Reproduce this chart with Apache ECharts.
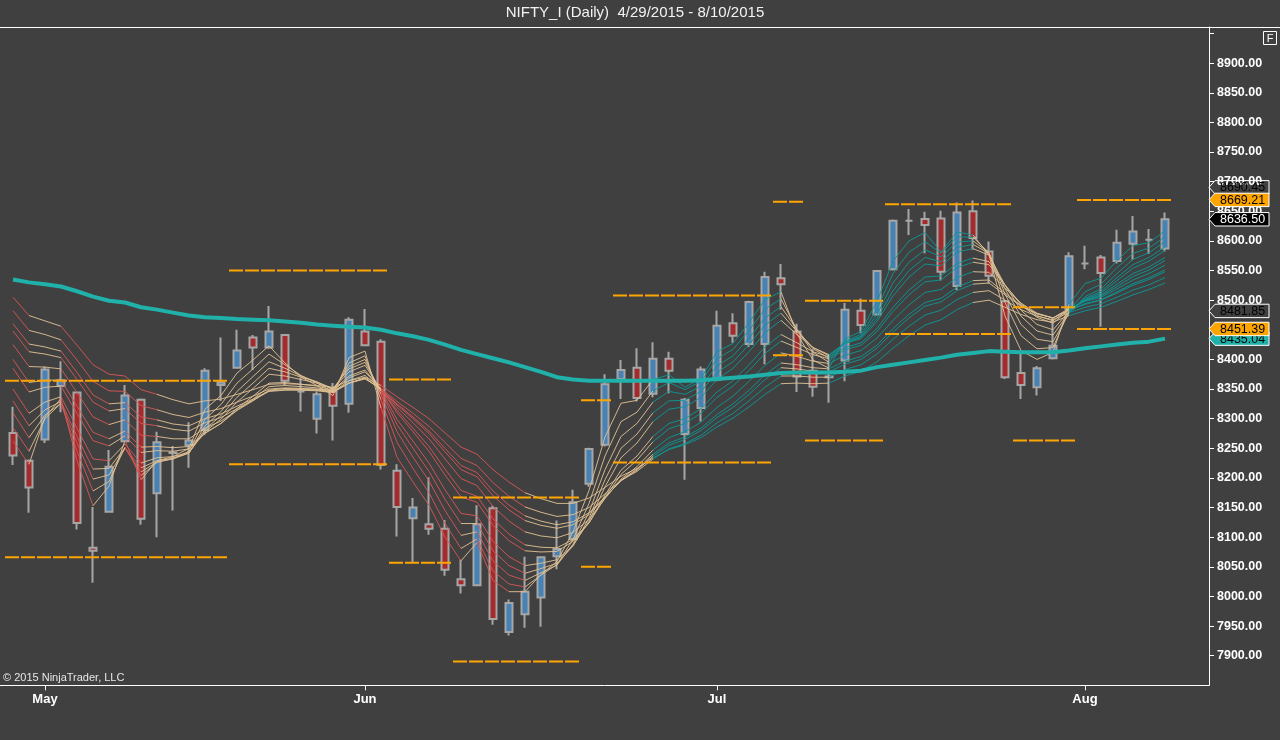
<!DOCTYPE html>
<html>
<head>
<meta charset="utf-8">
<script src="https://cdn.jsdelivr.net/npm/echarts@6/dist/echarts.min.js"></script>
<style>
html,body{margin:0;padding:0;background:#404040;}
#chart{width:1280px;height:740px;}
</style>
</head>
<body>
<div id="chart"></div>
<script>
// ---------- data ----------
const chartTitle = 'NIFTY_I (Daily)  4/29/2015 - 8/10/2015';
const dates = [
 '4/29/2015','4/30/2015',
 '5/4/2015','5/5/2015','5/6/2015','5/7/2015','5/8/2015',
 '5/11/2015','5/12/2015','5/13/2015','5/14/2015','5/15/2015',
 '5/18/2015','5/19/2015','5/20/2015','5/21/2015','5/22/2015',
 '5/25/2015','5/26/2015','5/27/2015','5/28/2015','5/29/2015',
 '6/1/2015','6/2/2015','6/3/2015','6/4/2015','6/5/2015',
 '6/8/2015','6/9/2015','6/10/2015','6/11/2015','6/12/2015',
 '6/15/2015','6/16/2015','6/17/2015','6/18/2015','6/19/2015',
 '6/22/2015','6/23/2015','6/24/2015','6/25/2015','6/26/2015',
 '6/29/2015','6/30/2015',
 '7/1/2015','7/2/2015','7/3/2015',
 '7/6/2015','7/7/2015','7/8/2015','7/9/2015','7/10/2015',
 '7/13/2015','7/14/2015','7/15/2015','7/16/2015','7/17/2015',
 '7/20/2015','7/21/2015','7/22/2015','7/23/2015','7/24/2015',
 '7/27/2015','7/28/2015','7/29/2015','7/30/2015','7/31/2015',
 '8/3/2015','8/4/2015','8/5/2015','8/6/2015','8/7/2015',
 '8/10/2015'
];
const monthNames = ['Jan','Feb','Mar','Apr','May','Jun','Jul','Aug','Sep','Oct','Nov','Dec'];

const opens  = [8276,8229,8265,8355,8344,8082,8143,8262,8332,8174,8242,8255,8281,8357,8386,8437,8420,8441,8346,8300,8346,8325,8447,8430,8212,8132,8122,8114,8029,8019,8149,7940,7970,7998,8068,8097,8190,8256,8367,8386,8342,8401,8274,8318,8366,8461,8426,8426,8537,8447,8381,8371,8398,8482,8476,8552,8634,8637,8638,8524,8650,8582,8498,8377,8353,8402,8485,8562,8572,8566,8595,8602,8587];
const highs  = [8320,8231,8388,8397,8346,8151,8247,8357,8334,8278,8254,8294,8385,8437,8450,8441,8490,8443,8369,8346,8360,8471,8485,8434,8223,8166,8201,8129,8062,8154,8153,7995,8067,8068,8128,8180,8251,8375,8399,8419,8429,8413,8335,8388,8482,8478,8499,8548,8561,8460,8417,8408,8495,8503,8551,8636,8654,8649,8651,8665,8668,8599,8500,8411,8389,8470,8581,8592,8576,8619,8642,8620,8648];
const lows   = [8222,8141,8259,8311,8113,8023,8141,8261,8121,8100,8145,8217,8273,8330,8385,8382,8418,8357,8312,8275,8263,8310,8423,8214,8101,8057,8104,8035,8005,8017,7952,7934,7947,7949,8046,8095,8185,8253,8333,8329,8336,8343,8197,8295,8363,8428,8421,8392,8484,8345,8337,8327,8363,8444,8474,8550,8610,8579,8533,8517,8585,8528,8367,8333,8339,8400,8483,8552,8455,8562,8568,8578,8582];
const closes = [8238,8184,8383,8365,8124,8077,8219,8339,8131,8260,8243,8263,8381,8361,8415,8420,8447,8364,8346,8341,8322,8467,8424,8222,8151,8150,8114,8045,8019,8122,7962,7989,8008,8066,8080,8159,8249,8358,8382,8335,8401,8381,8332,8383,8457,8440,8497,8539,8527,8371,8354,8370,8484,8458,8549,8634,8634,8627,8548,8648,8605,8541,8370,8357,8385,8423,8574,8562,8546,8597,8616,8602,8636.5];

// thick teal average
const trendLine = [8535,8530,8527,8523,8515,8506,8499,8496,8488,8484,8479,8474,8471,8470,8468,8467,8466,8464,8462,8459,8457,8455,8454,8450,8444,8439,8433,8425,8416,8409,8402,8395,8387,8379,8370,8366,8364,8364,8364,8364,8364,8364,8364,8365,8367,8369,8371,8374,8377,8378,8378,8378,8379,8381,8387,8391,8395,8399,8403,8408,8411,8414,8413,8412,8412,8412,8415,8419,8422,8425,8428,8430,8435.04];

// ribbon of averages, fastest first
const ribbonA = [8262,8223,8303,8334,8229,8153,8186,8263,8197,8229,8236,8250,8316,8339,8377,8399,8423,8394,8370,8356,8339,8403,8414,8318,8235,8193,8154,8100,8060,8091,8027,8008,8008,8037,8059,8109,8179,8269,8326,8331,8366,8374,8353,8368,8413,8427,8462,8501,8514,8443,8399,8385,8435,8447,8498,8566,8600,8614,8581,8615,8610,8576,8473,8415,8400,8412,8493,8528,8537,8567,8592,8597,8617];
const ribbonB = [8285,8245,8300,8326,8245,8178,8194,8252,8204,8226,8233,8245,8299,8324,8360,8384,8409,8391,8373,8360,8345,8394,8406,8332,8260,8216,8175,8123,8081,8097,8043,8021,8016,8036,8054,8096,8157,8237,8295,8311,8347,8361,8349,8363,8401,8417,8449,8485,8502,8450,8412,8395,8431,8442,8485,8545,8581,8599,8579,8607,8606,8580,8496,8440,8418,8420,8482,8514,8527,8555,8579,8588,8607];
const ribbonC = [8310,8268,8306,8326,8259,8198,8205,8250,8210,8227,8232,8242,8288,8312,8346,8371,8396,8385,8372,8362,8349,8388,8400,8341,8278,8235,8195,8145,8103,8109,8060,8036,8027,8040,8053,8088,8142,8214,8270,8292,8328,8346,8341,8355,8389,8406,8436,8470,8489,8450,8418,8402,8429,8439,8476,8529,8564,8585,8573,8598,8600,8580,8510,8459,8434,8430,8478,8506,8519,8545,8569,8580,8599];
const ribbonD = [8330,8288,8315,8329,8270,8215,8216,8251,8217,8229,8233,8242,8282,8305,8336,8360,8385,8379,8370,8362,8351,8384,8395,8346,8290,8250,8211,8164,8123,8123,8077,8052,8039,8047,8056,8085,8132,8197,8250,8274,8310,8330,8331,8346,8378,8396,8425,8458,8478,8447,8420,8406,8428,8437,8469,8516,8550,8572,8565,8589,8594,8579,8519,8473,8448,8441,8479,8503,8515,8538,8560,8572,8590];
const ribbonE = [8350,8309,8328,8337,8284,8232,8229,8257,8225,8234,8236,8243,8278,8299,8328,8351,8375,8372,8366,8360,8350,8379,8390,8348,8299,8262,8225,8180,8140,8136,8093,8067,8052,8056,8062,8086,8127,8185,8234,8259,8295,8316,8320,8336,8366,8385,8413,8445,8466,8442,8420,8408,8427,8435,8464,8507,8539,8561,8558,8581,8587,8576,8525,8483,8459,8450,8481,8501,8512,8533,8554,8566,8584];
const ribbonF = [8385,8345,8353,8355,8309,8263,8254,8271,8243,8246,8245,8249,8275,8292,8317,8338,8360,8361,8358,8355,8348,8372,8382,8350,8310,8278,8245,8205,8168,8159,8120,8094,8077,8075,8076,8093,8124,8171,8213,8237,8270,8292,8300,8317,8345,8364,8391,8421,8442,8428,8413,8404,8420,8428,8452,8488,8517,8539,8541,8562,8571,8565,8526,8492,8471,8461,8484,8500,8509,8527,8545,8556,8572];
const ribbonG = [8400,8361,8365,8365,8321,8277,8266,8279,8252,8253,8251,8253,8276,8292,8314,8333,8354,8356,8354,8352,8347,8369,8379,8350,8314,8284,8253,8215,8179,8169,8131,8105,8087,8083,8082,8096,8124,8167,8206,8230,8261,8283,8292,8309,8336,8355,8381,8410,8431,8420,8408,8401,8416,8424,8447,8481,8509,8531,8534,8555,8564,8560,8525,8494,8474,8465,8485,8499,8507,8523,8540,8551,8567];
const ribbonH = [8425,8388,8387,8384,8344,8303,8290,8298,8272,8270,8266,8266,8284,8296,8314,8330,8348,8351,8350,8349,8345,8364,8373,8350,8319,8293,8266,8232,8199,8187,8152,8127,8109,8102,8099,8108,8130,8165,8198,8219,8247,8268,8278,8294,8319,8338,8363,8390,8411,8405,8397,8393,8407,8415,8436,8466,8492,8513,8518,8538,8548,8547,8520,8495,8478,8470,8486,8498,8505,8519,8534,8545,8559];
const ribbonI = [8448,8413,8409,8403,8366,8328,8313,8317,8292,8288,8282,8279,8293,8302,8317,8331,8346,8348,8348,8347,8344,8360,8369,8349,8323,8300,8275,8244,8214,8202,8170,8146,8128,8120,8115,8121,8138,8167,8196,8215,8240,8259,8269,8284,8307,8325,8348,8374,8394,8391,8386,8384,8397,8405,8424,8452,8476,8496,8503,8522,8533,8534,8512,8491,8477,8470,8484,8494,8501,8514,8528,8538,8551];
const ribbonJ = [8460,8426,8421,8414,8378,8340,8325,8327,8303,8298,8291,8288,8300,8308,8321,8333,8347,8349,8349,8348,8345,8360,8368,8350,8325,8303,8279,8250,8221,8209,8178,8154,8136,8127,8121,8126,8141,8168,8195,8213,8237,8255,8265,8280,8302,8319,8341,8366,8386,8384,8380,8379,8392,8400,8419,8446,8470,8490,8497,8516,8527,8529,8509,8490,8477,8470,8483,8493,8500,8512,8525,8535,8548];
const ribbonK = [8482,8449,8442,8433,8399,8363,8347,8346,8322,8315,8307,8302,8311,8317,8328,8338,8350,8352,8351,8350,8347,8360,8367,8351,8329,8309,8287,8260,8233,8221,8192,8169,8151,8142,8135,8138,8150,8173,8196,8211,8232,8249,8258,8272,8293,8309,8330,8353,8372,8372,8370,8370,8383,8391,8409,8434,8456,8475,8483,8501,8513,8516,8500,8484,8473,8467,8479,8488,8494,8505,8517,8526,8538];
const ribbonL = [8505,8474,8465,8456,8424,8391,8375,8372,8349,8341,8332,8325,8330,8333,8341,8349,8358,8359,8358,8356,8353,8364,8370,8356,8337,8319,8300,8276,8252,8240,8214,8193,8175,8165,8157,8157,8166,8184,8203,8216,8234,8248,8256,8268,8286,8301,8320,8341,8359,8360,8359,8360,8372,8380,8396,8419,8440,8458,8467,8484,8496,8500,8488,8476,8467,8463,8474,8482,8488,8498,8509,8518,8529];

// ribbon state per bar-to-bar segment, run-length: R bearish, T neutral, G bullish
const ribbonStateRuns = [['R',1],['T',2],['R',6],['T',14],['R',9],['T',8],['G',8],['T',3],['G',9],['T',6],['G',6]];

// orange level segments (first bar, last bar, upper, lower)
const levelStart = [0, 14, 24, 28, 36, 38, 48, 50, 55, 63, 67];
const levelEnd   = [13, 23, 27, 35, 37, 47, 49, 54, 62, 66, 72];
const levelHigh  = [8364, 8550, 8366, 8167, 8331, 8508, 8666, 8499, 8662, 8488, 8669.21];
const levelLow   = [8066, 8223, 8057, 7890, 8050, 8226, 8407, 8263, 8443, 8263, 8451.39];

// price markers on the right axis (drawn in this order)
const markerValues = [8690.45, 8669.21, 8636.50, 8481.85, 8435.04, 8451.39];

// ---------- styling ----------
const BG = '#404040';
const FONT = '"Liberation Sans", Arial, sans-serif';
const UP = '#4682B4', DOWN = '#A52A2A', CANDLE_BORDER = '#A6A6A6';
const RIBBON_COLORS = { red: 'rgba(214,86,86,0.92)', tan: 'rgba(224,192,146,0.92)', teal: 'rgba(14,150,150,0.92)' };
const markerStyles = [
  { fill: 'rgba(0,0,0,0)', stroke: '#ffffff', text: '#000000' },
  { fill: '#FFA500', stroke: '#ffffff', text: '#000000' },
  { fill: '#000000', stroke: '#ffffff', text: '#ffffff' },
  { fill: 'rgba(0,0,0,0)', stroke: '#ffffff', text: '#000000' },
  { fill: '#20B2AA', stroke: '#ffffff', text: '#000000' },
  { fill: '#FFA500', stroke: '#ffffff', text: '#000000' }
];

// ---------- build ----------
const monthOf = d => parseInt(d.split('/')[0], 10);
const monthStart = new Set();
dates.forEach((d, i) => { if (i > 0 && monthOf(d) !== monthOf(dates[i - 1])) monthStart.add(i); });
const categories = dates.concat(['', '']);

const ribbonState = [];
ribbonStateRuns.forEach(([s, n]) => { for (let k = 0; k < n; k++) ribbonState.push(s); });

// slow lines drawn first
const ribbons = [ribbonL, ribbonK, ribbonJ, ribbonI, ribbonH, ribbonG, ribbonF, ribbonE, ribbonD, ribbonC, ribbonB, ribbonA];
const ribbonSegments = [];
ribbons.forEach(line => {
  for (let s = 0; s < line.length - 1; s++) {
    const st = ribbonState[s] || 'T';
    const rising = line[s + 1] >= line[s];
    let c;
    if (st === 'G') c = 'teal';
    else if (st === 'T') c = 'tan';
    else c = rising ? 'tan' : 'red';
    ribbonSegments.push([s, line[s], line[s + 1], c]);
  }
});

const levelSegments = [];
levelStart.forEach((s, k) => {
  levelSegments.push([s, levelEnd[k], levelHigh[k]]);
  levelSegments.push([s, levelEnd[k], levelLow[k]]);
});

const candleData = opens.map((o, i) => [o, closes[i], lows[i], highs[i]]);

const Y_MIN = 7850, Y_MAX = 8961;

const chart = echarts.init(document.getElementById('chart'), null, { renderer: 'canvas' });
chart.setOption({
  backgroundColor: BG,
  animation: false,
  textStyle: { fontFamily: FONT },
  grid: [
    { left: 5, top: 27, width: 1200, bottom: 54.7 },
    { left: 0, top: 27, width: 1209, bottom: 54.7 }
  ],
  xAxis: [
    {
      type: 'category', gridIndex: 0, data: categories, boundaryGap: true,
      axisLine: { show: false, onZero: false },
      axisTick: { show: true, alignWithLabel: true, interval: (i) => monthStart.has(i), length: 5, lineStyle: { color: '#ffffff', width: 1 } },
      axisLabel: {
        show: true, interval: (i) => monthStart.has(i),
        formatter: (v) => v ? monthNames[monthOf(v) - 1] : '',
        color: '#ffffff', fontWeight: 'bold', fontSize: 13, margin: 8, fontFamily: FONT
      },
      splitLine: { show: false }
    },
    {
      type: 'value', gridIndex: 1, min: 0, max: 1, position: 'bottom',
      axisLine: { show: true, onZero: false, lineStyle: { color: '#ffffff', width: 1 } },
      axisTick: { show: false }, axisLabel: { show: false }, splitLine: { show: false }
    }
  ],
  yAxis: [
    { type: 'value', gridIndex: 0, min: Y_MIN, max: Y_MAX, show: false,
      axisLine: { show: false, onZero: false }, axisTick: { show: false }, axisLabel: { show: false }, splitLine: { show: false } },
    {
      type: 'value', gridIndex: 1, position: 'right', min: Y_MIN, max: Y_MAX, interval: 50,
      axisLine: { show: true, onZero: false, lineStyle: { color: '#ffffff', width: 1 } },
      axisTick: { show: true, inside: false, length: 5, lineStyle: { color: '#ffffff', width: 1 } },
      axisLabel: {
        color: '#ffffff', fontWeight: 'bold', fontSize: 12.5, margin: 8, fontFamily: FONT,
        showMinLabel: false, showMaxLabel: false,
        formatter: (v) => (v < 7900 || v > 8900) ? '' : v.toFixed(2)
      },
      splitLine: { show: false }
    }
  ],
  series: [
    {
      type: 'candlestick', xAxisIndex: 0, yAxisIndex: 0, z: 2, silent: true,
      barWidth: 7,
      data: candleData,
      itemStyle: { color: UP, color0: DOWN, borderColor: CANDLE_BORDER, borderColor0: CANDLE_BORDER, borderColorDoji: CANDLE_BORDER, borderWidth: 2 }
    },
    {
      type: 'custom', xAxisIndex: 0, yAxisIndex: 0, z: 3, silent: true, clip: true,
      data: ribbonSegments,
      encode: { x: 0, y: [1, 2] },
      renderItem: (params, api) => {
        const item = ribbonSegments[params.dataIndex];
        const s = item[0];
        const p0 = api.coord([s, item[1]]);
        const p1 = api.coord([s + 1, item[2]]);
        return { type: 'line', shape: { x1: p0[0], y1: p0[1], x2: p1[0], y2: p1[1] },
                 style: { stroke: RIBBON_COLORS[item[3]], lineWidth: 1, fill: 'none' } };
      }
    },
    {
      type: 'line', xAxisIndex: 0, yAxisIndex: 0, z: 4, silent: true,
      data: trendLine, showSymbol: false, symbol: 'none',
      lineStyle: { color: '#20B2AA', width: 4 }
    },
    {
      type: 'custom', xAxisIndex: 0, yAxisIndex: 0, z: 5, silent: true, clip: true,
      data: levelSegments,
      encode: { x: [0, 1], y: 2 },
      renderItem: (params, api) => {
        const item = levelSegments[params.dataIndex];
        const half = api.size([1, 0])[0] / 2;
        const a = api.coord([item[0], item[2]]);
        const b = api.coord([item[1], item[2]]);
        return { type: 'line', shape: { x1: a[0] - half, y1: a[1], x2: b[0] + half, y2: b[1] },
                 style: { stroke: '#FFA500', lineWidth: 2, lineDash: [14, 2], fill: 'none' } };
      }
    }
  ]
});

// ---------- overlay text / markers ----------
const tipX = chart.convertToPixel({ xAxisIndex: 1 }, 1);
const gridTop = chart.convertToPixel({ yAxisIndex: 1 }, Y_MAX);
const graphics = [];
graphics.push({ type: 'line', silent: true, z: 100, shape: { x1: 0, y1: gridTop + 0.5, x2: 1280, y2: gridTop + 0.5 }, style: { stroke: '#ffffff', lineWidth: 1 } });
graphics.push({ type: 'text', silent: true, z: 100, x: 635, y: 13,
  style: { text: chartTitle, fill: '#f2f2f2', font: '15px ' + FONT, textAlign: 'center', textVerticalAlign: 'middle', align: 'center', verticalAlign: 'middle' } });
graphics.push({ type: 'text', silent: true, z: 100, x: 3, y: 678,
  style: { text: '\u00A9 2015 NinjaTrader, LLC', fill: '#e6e6e6', font: '11px ' + FONT, textAlign: 'left', textVerticalAlign: 'middle', align: 'left', verticalAlign: 'middle' } });
graphics.push({ type: 'rect', silent: true, z: 100, shape: { x: 1263.5, y: 31.5, width: 13, height: 13 }, style: { fill: 'none', stroke: '#ffffff', lineWidth: 1 } });
graphics.push({ type: 'text', silent: true, z: 100, x: 1270, y: 38.5,
  style: { text: 'F', fill: '#ffffff', font: '11px ' + FONT, textAlign: 'center', textVerticalAlign: 'middle', align: 'center', verticalAlign: 'middle' } });

markerValues.forEach((v, k) => {
  const y = chart.convertToPixel({ yAxisIndex: 1 }, v);
  const h = 6.7;
  const st = markerStyles[k];
  graphics.push({ type: 'polygon', silent: true, z: 110 + k * 2,
    shape: { points: [[tipX, y], [tipX + 6, y - h], [tipX + 60, y - h], [tipX + 60, y + h], [tipX + 6, y + h]] },
    style: { fill: st.fill, stroke: st.stroke, lineWidth: 1 } });
  graphics.push({ type: 'text', silent: true, z: 111 + k * 2, x: tipX + 11, y: y + 0.5,
    style: { text: v.toFixed(2), fill: st.text, font: '12.5px ' + FONT, textAlign: 'left', textVerticalAlign: 'middle', align: 'left', verticalAlign: 'middle' } });
});

chart.setOption({ graphic: graphics });
</script>
</body>
</html>
